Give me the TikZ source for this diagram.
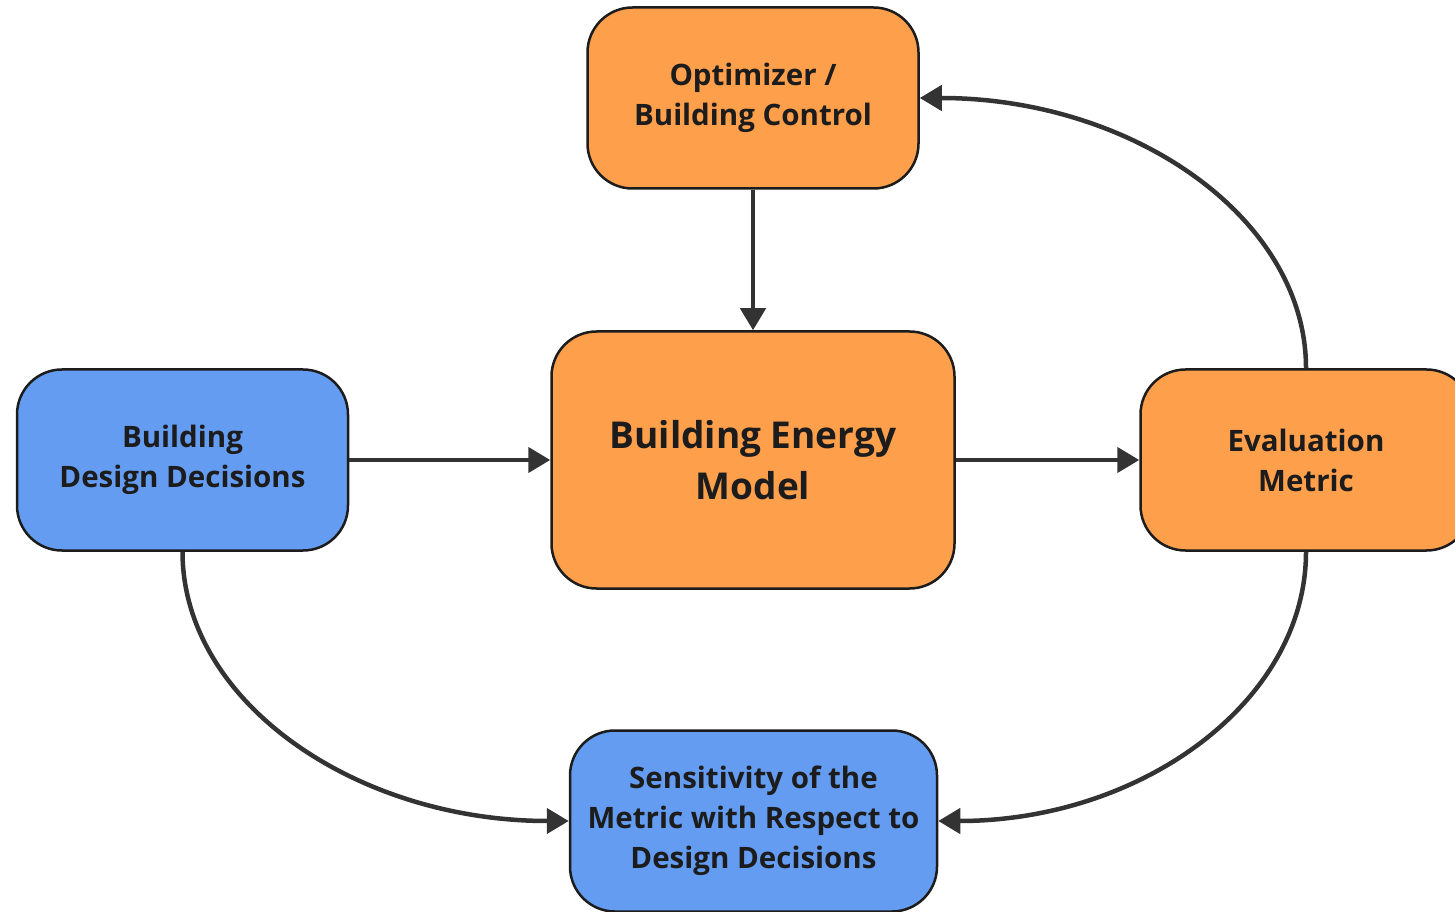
\documentclass[tikz,border=0pt]{standalone}
\usepackage{fontspec}
\setmainfont{Open Sans}
\usepackage{xcolor}
\usetikzlibrary{arrows.meta}
\definecolor{orangex}{HTML}{FE9F4C}
\definecolor{bluex}{HTML}{649CF1}
\definecolor{edgex}{HTML}{1C1C1C}
\definecolor{arx}{HTML}{333333}
\tikzset{
  ar/.style={-{Triangle[length=22pt,width=25pt]},line width=4.5pt,arx},
  box/.style={draw=edgex,line width=2.5pt,rounded corners=45pt,align=center,inner sep=0pt,
    font=\fontsize{29.5}{40}\selectfont\bfseries,text=edgex,minimum width=331pt,minimum height=181pt},
  obox/.style={box,fill=orangex},
  bbox/.style={box,fill=bluex}
}

\begin{document}
\begin{tikzpicture}[x=1pt,y=1pt]
\useasboundingbox (0,0) rectangle (1455,911);
\node[obox] (opt) at (753,813) {Optimizer /\\Building Control};
\node[obox,minimum width=403pt,minimum height=257pt,font=\fontsize{37}{51}\selectfont\bfseries] (bem) at (753,451) {Building Energy\\Model};
\node[bbox] (dd) at (182.5,451) {Building\\Design Decisions};
\node[obox] (em) at (1306,451) {Evaluation\\Metric};
\node[bbox,minimum width=367pt] (sens) at (753.5,90) {Sensitivity of the\\Metric with Respect to\\Design Decisions};
\draw[ar] (opt.south) -- (bem.north);
\draw[ar] (dd.east) -- (bem.west);
\draw[ar] (bem.east) -- (em.west);
\draw[ar] (em.north) .. controls +(0,150) and +(213,0) .. (opt.east);
\draw[ar] (dd.south) .. controls +(0,-150) and +(-213,0) .. (sens.west);
\draw[ar] (em.south) .. controls +(0,-150) and +(203,0) .. (sens.east);
\end{tikzpicture}
\end{document}
